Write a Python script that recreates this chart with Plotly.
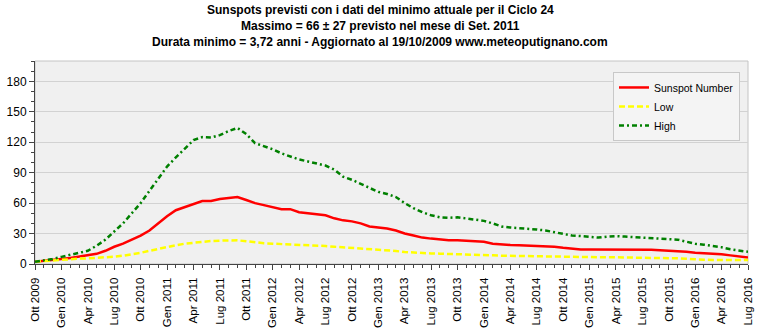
import plotly.graph_objects as go

# Month index 0 = Ott 2009 ... 81 = Lug 2016
months = list(range(82))

sunspot = [2.3, 3, 4, 5, 6, 7.5, 9, 10, 13, 17, 20, 24, 28, 33, 40, 47, 53, 56, 59, 62,
           62, 64, 65, 66, 63, 60, 58, 56, 54, 54, 51, 50, 49, 48, 45, 43, 42, 40, 37, 36,
           35, 33, 30, 28, 26, 25, 24, 23.5, 23.5, 23, 22.5, 22, 20, 19, 18.7, 18.5, 18.3, 18, 17.5, 17,
           16, 15, 14.4, 14.4, 14.4, 14.4, 14.4, 14.4, 14.4, 14.4, 14, 13.5, 13.2, 13, 12, 11, 10.5, 10.5, 9.5, 8.5,
           7.5, 6.5]

low = [2.3, 3, 3.8, 4.6, 5, 5.3, 5.6, 6, 6.6, 7.2, 8.2, 9.5, 11, 13, 15, 17, 18.5, 20, 21, 22,
       22.6, 23, 23.3, 23.3, 22.5, 21.3, 20.5, 20, 19.7, 19.4, 19, 18.5, 18, 17.7, 17, 16.5, 16, 15.4, 15, 14.3,
       13.8, 12.8, 11.8, 11.2, 10.6, 10.4, 10.2, 10, 10, 9.8, 9.5, 9, 8.5, 8.2, 8, 7.8, 7.6, 7.4, 7.3, 7.2,
       7, 6.9, 6.8, 6.7, 6.7, 6.7, 6.6, 6.6, 6.6, 6.6, 6.2, 6, 5.8, 5.6, 5.2, 4.5, 4.2, 4, 4, 4,
       4, 4]

high = [2.3, 3.5, 5, 7, 9, 11, 13, 18, 24, 32, 40, 50, 60, 72, 84, 96, 105, 114, 122, 125,
        124.6, 127, 131, 134, 128, 119, 116, 113, 109, 106, 103, 101, 99, 97, 93, 86, 83, 79, 75, 71,
        69, 66, 60, 55, 51, 48, 46, 45.5, 46, 45, 44, 42.5, 40, 37, 36, 35.5, 35, 34, 33, 31.5,
        29.5, 28, 27.5, 27, 26, 27, 27.5, 27, 26.5, 26, 25.5, 25, 24.5, 24, 22, 20, 19, 18, 16.5, 14.5,
        13, 12]

tick_months = list(range(0, 82, 3))
tick_labels = ["Ott 2009", "Gen 2010", "Apr 2010", "Lug 2010", "Ott 2010",
               "Gen 2011", "Apr 2011", "Lug 2011", "Ott 2011",
               "Gen 2012", "Apr 2012", "Lug 2012", "Ott 2012",
               "Gen 2013", "Apr 2013", "Lug 2013", "Ott 2013",
               "Gen 2014", "Apr 2014", "Lug 2014", "Ott 2014",
               "Gen 2015", "Apr 2015", "Lug 2015", "Ott 2015",
               "Gen 2016", "Apr 2016", "Lug 2016"]

y_ticks = [0, 30, 60, 90, 120, 150, 180]

title_lines = ["Sunspots previsti con i dati del minimo attuale per il Ciclo 24",
               "Massimo = 66 ± 27 previsto nel mese di Set. 2011",
               "Durata minimo = 3,72 anni - Aggiornato al 19/10/2009 www.meteoputignano.com"]

fig = go.Figure()
fig.add_trace(go.Scatter(x=months, y=sunspot, mode="lines", name="Sunspot Number",
                         line=dict(color="#ff0000", width=2.5)))
fig.add_trace(go.Scatter(x=months, y=low, mode="lines", name="Low",
                         line=dict(color="#ffff00", width=2.5, dash="6px,3px")))
fig.add_trace(go.Scatter(x=months, y=high, mode="lines", name="High",
                         line=dict(color="#008000", width=2.5, dash="5px,3px,2px,3px")))

font_family = "Liberation Sans, Arial, sans-serif"

L, R, T, B = 35, 12, 61, 64
H = 328
plot_h = H - T - B
title_y_px = [10, 26, 42]
annotations = []
for line, ypx in zip(title_lines, title_y_px):
    annotations.append(dict(text=line, xref="paper", yref="paper",
                            x=(380 - L) / (760 - L - R), y=(H - B - ypx) / plot_h,
                            xanchor="center", yanchor="middle", showarrow=False,
                            font=dict(family=font_family, size=12, color="black", weight="bold")))

fig.update_layout(
    width=760, height=328,
    margin=dict(l=L, r=R, t=T, b=B, autoexpand=False),
    paper_bgcolor="white",
    plot_bgcolor="#f0f0f0",
    font=dict(family=font_family, size=11, color="black"),
    annotations=annotations,
    showlegend=True,
    legend=dict(x=(740 - L) / (760 - L - R), y=0.946, xanchor="right", yanchor="top",
                bgcolor="#f4f4f4", bordercolor="#c8c8c8", borderwidth=1,
                font=dict(family=font_family, size=10.5), tracegroupgap=0,
                itemwidth=30),
    shapes=[dict(type="rect", xref="x domain", yref="y domain", x0=0, x1=1, y0=0, y1=1,
                 line=dict(color="#c4c4c4", width=1), layer="below")],
)

fig.update_xaxes(range=[0, 81], tickmode="array", tickvals=tick_months, ticktext=tick_labels,
                 tickangle=-90, ticks="outside", ticklen=5, tickcolor="#444", automargin=False,
                 showline=True, linecolor="#444", linewidth=1, showgrid=False, zeroline=False,
                 tickfont=dict(size=11.5), ticklabelstandoff=3,
                 minor=dict(dtick=1, tick0=0, ticks="outside", ticklen=3, tickcolor="#444",
                            showgrid=False))
fig.update_yaxes(range=[0, 200], tickmode="array", tickvals=y_ticks, automargin=False,
                 ticks="outside", ticklen=5, tickcolor="#444",
                 showline=True, linecolor="#444", linewidth=1,
                 showgrid=True, gridcolor="#d2d2d2", gridwidth=1, zeroline=False,
                 tickfont=dict(size=12),
                 minor=dict(dtick=10, tick0=0, ticks="outside", ticklen=3, tickcolor="#444",
                            showgrid=False))

fig.write_html("out.html")
